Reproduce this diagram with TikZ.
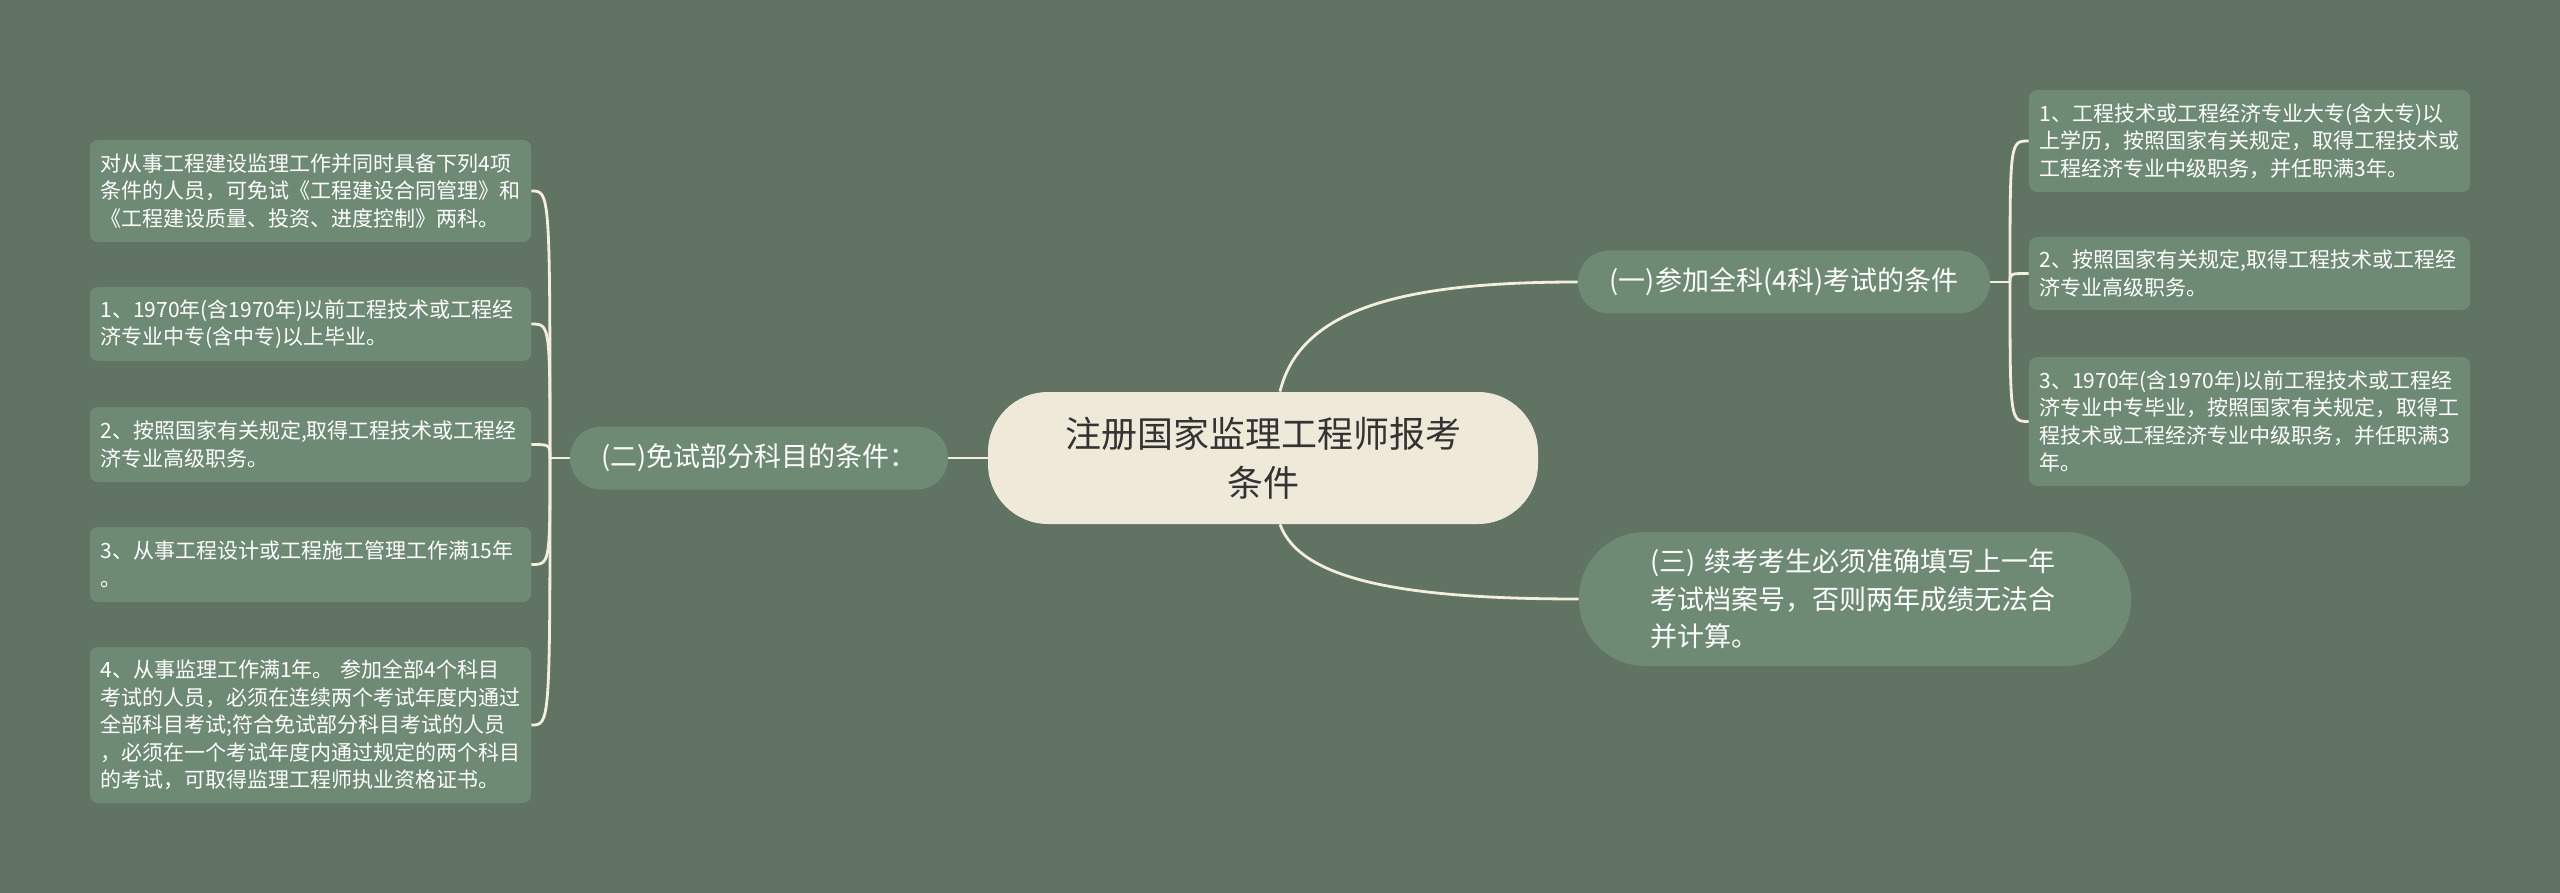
\documentclass[tikz,border=0pt]{standalone}
\usepackage{fontspec}
\newfontfamily\cjk{Noto Sans CJK SC}
\usepackage{xcolor}
\definecolor{bgc}{HTML}{617464}
\definecolor{boxc}{HTML}{6E8A74}
\definecolor{rootc}{HTML}{EEE9D8}
\definecolor{linkc}{HTML}{F4EFDD}
\definecolor{inkc}{HTML}{333333}

\begin{document}
\begin{tikzpicture}[x=0.5pt,y=-0.5pt,
    link/.style={draw=linkc,line width=1.4pt},
    leaf/.style={fill=boxc,rounded corners=4pt,text=white,text width=210pt,
      inner xsep=5.25pt,inner ysep=0pt,align=left,
      font=\cjk\fontsize{10.5}{13.75}\selectfont},
    pill/.style={fill=boxc,rounded corners=15.5pt,text=white,minimum height=31.5pt,
      font=\cjk\fontsize{13.5}{18.75}\selectfont}]

  % background
  \fill[bgc] (0,0) rectangle (2560,893);

  % centre
  \node[fill=rootc,rounded corners=30pt,minimum width=275pt,minimum height=66pt,
    text=inkc,align=center,font=\cjk\fontsize{18}{24.5}\selectfont]
    (root) at (1263,458) {注册国家监理工程师报考\\条件};

  % branches
  \node[pill,minimum width=189pt] (exempt) at (759,458) {(二)免试部分科目的条件：};
  \node[pill,minimum width=206pt] (full) at (1784,282) {(一)参加全科(4科)考试的条件};
  \node[pill,rounded corners=33pt,minimum width=276pt,minimum height=67pt,
    text width=205pt,align=left] (resit) at (1855,599)
    {(三) 续考考生必须准确填写上一年\\考试档案号，否则两年成绩无法合\\并计算。};

  % left leaves
  \node[leaf,minimum height=51pt] (ex0) at (310.5,191)
    {对从事工程建设监理工作并同时具备下列4项\\条件的人员，可免试《工程建设合同管理》和\\《工程建设质量、投资、进度控制》两科。};
  \node[leaf,minimum height=37pt] (ex1) at (310.5,324)
    {1、1970年(含1970年)以前工程技术或工程经\\济专业中专(含中专)以上毕业。};
  \node[leaf,minimum height=37.5pt] (ex2) at (310.5,444.5)
    {2、按照国家有关规定,取得工程技术或工程经\\济专业高级职务。};
  \node[leaf,minimum height=37.5pt] (ex3) at (310.5,564.5)
    {3、从事工程设计或工程施工管理工作满15年\\。};
  \node[leaf,minimum height=78pt] (ex4) at (310.5,725)
    {4、从事监理工作满1年。 参加全部4个科目\\考试的人员，必须在连续两个考试年度内通过\\全部科目考试;符合免试部分科目考试的人员\\，必须在一个考试年度内通过规定的两个科目\\的考试，可取得监理工程师执业资格证书。};

  % right leaves
  \node[leaf,minimum height=51pt] (al1) at (2249.5,141)
    {1、工程技术或工程经济专业大专(含大专)以\\上学历，按照国家有关规定，取得工程技术或\\工程经济专业中级职务，并任职满3年。};
  \node[leaf,minimum height=36.5pt] (al2) at (2249.5,273.5)
    {2、按照国家有关规定,取得工程技术或工程经\\济专业高级职务。};
  \node[leaf,minimum height=64.5pt] (al3) at (2249.5,421.5)
    {3、1970年(含1970年)以前工程技术或工程经\\济专业中专毕业，按照国家有关规定，取得工\\程技术或工程经济专业中级职务，并任职满3\\年。};

  % draw connectors
  \coordinate (lt) at (550,458);
  \coordinate (rt) at (2010,282);
  \draw[link] (root.west) -- (exempt.east);
  \draw[link] ([xshift=8.5pt]root.north) .. controls +(20,-82) and +(-178,0) .. (full.west);
  \draw[link] ([xshift=8.5pt]root.south) .. controls +(20,55) and +(-178,0) .. (resit.west);

  \draw[link] (exempt.west) -- (lt);
  \foreach \leaf in {ex0,ex1,ex2,ex3,ex4}
    \draw[link] (lt) .. controls (lt |- \leaf.east) .. (\leaf.east);

  \draw[link] (full.east) -- (rt);
  \foreach \leaf in {al1,al2,al3}
    \draw[link] (rt) .. controls (rt |- \leaf.west) .. (\leaf.west);

\end{tikzpicture}
\end{document}
